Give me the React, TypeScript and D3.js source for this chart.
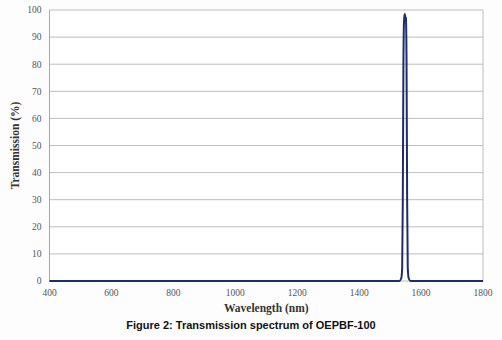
import { scaleLinear, line as d3_line, curveMonotoneX } from "d3";

// spectrum samples
const wavelengths = [400, 800, 1200, 1500, 1530, 1536, 1539, 1541, 1543, 1545, 1547, 1549, 1551, 1553, 1555, 1557, 1560, 1566, 1600, 1800];
const transmission = [0, 0, 0, 0, 0, 1, 5, 30, 80, 96, 98.5, 97.5, 97, 82, 30, 5, 1, 0, 0, 0];

const xTicks = [400, 600, 800, 1000, 1200, 1400, 1600, 1800];
const yTicks = [0, 10, 20, 30, 40, 50, 60, 70, 80, 90, 100];

const W = 502;
const H = 340;
const margin = { top: 10, right: 19, bottom: 59, left: 49.5 };

export default function App() {
  const x = scaleLinear()
    .domain([400, 1800])
    .range([margin.left, W - margin.right]);
  const y = scaleLinear()
    .domain([0, 100])
    .range([H - margin.bottom, margin.top]);

  const pts = wavelengths.map((w, i) => ({ w, t: transmission[i] }));
  const path = d3_line<{ w: number; t: number }>()
    .x((d) => x(d.w))
    .y((d) => y(d.t))
    .curve(curveMonotoneX)(pts);

  const serif = "'Liberation Serif', 'DejaVu Serif', serif";

  return (
    <svg
      width={W}
      height={H}
      style={{ position: "absolute", left: 0, top: 0, background: "#fdfdfd" }}
    >
      <rect x={0} y={0} width={W} height={H} fill="#fdfdfd" />
      <rect
        x={x(400)}
        y={y(100)}
        width={x(1800) - x(400)}
        height={y(0) - y(100)}
        fill="#ffffff"
      />

      {/* gridlines */}
      {yTicks.map((v) => (
        <line
          key={v}
          x1={x(400)}
          x2={x(1800)}
          y1={y(v)}
          y2={y(v)}
          stroke="#bdbdbd"
          strokeWidth={1}
        />
      ))}
      {/* frame */}
      <line x1={x(400)} x2={x(400)} y1={y(0)} y2={y(100)} stroke="#a8a8a8" />
      <line x1={x(1800)} x2={x(1800)} y1={y(0)} y2={y(100)} stroke="#bdbdbd" />

      {/* y tick labels */}
      {yTicks.map((v) => (
        <text
          key={v}
          x={x(400) - 8}
          y={y(v)}
          dy="0.35em"
          textAnchor="end"
          fontFamily={serif}
          fontSize={9.5}
          fill="#555"
        >
          {v}
        </text>
      ))}

      {/* x tick labels */}
      {xTicks.map((v) => (
        <text
          key={v}
          x={x(v)}
          y={y(0) + 15}
          textAnchor="middle"
          fontFamily={serif}
          fontSize={9.5}
          fill="#555"
        >
          {v}
        </text>
      ))}

      {/* spectrum */}
      <path d={path ?? ""} fill="none" stroke="#1e2c6e" strokeWidth={2} />

      {/* axis titles */}
      <text
        transform={`translate(19,${(y(0) + y(100)) / 2}) rotate(-90)`}
        textAnchor="middle"
        fontFamily={serif}
        fontWeight="bold"
        fontSize={11.5}
        fill="#333"
      >
        Transmission (%)
      </text>
      <text
        x={(x(400) + x(1800)) / 2}
        y={y(0) + 31}
        textAnchor="middle"
        fontFamily={serif}
        fontWeight="bold"
        fontSize={11.5}
        fill="#333"
      >
        Wavelength (nm)
      </text>

      {/* caption */}
      <text
        x={251}
        y={329}
        textAnchor="middle"
        fontFamily="'Liberation Sans', Arial, sans-serif"
        fontWeight="bold"
        fontSize={11}
        fill="#111"
      >
        Figure 2: Transmission spectrum of OEPBF-100
      </text>
    </svg>
  );
}
